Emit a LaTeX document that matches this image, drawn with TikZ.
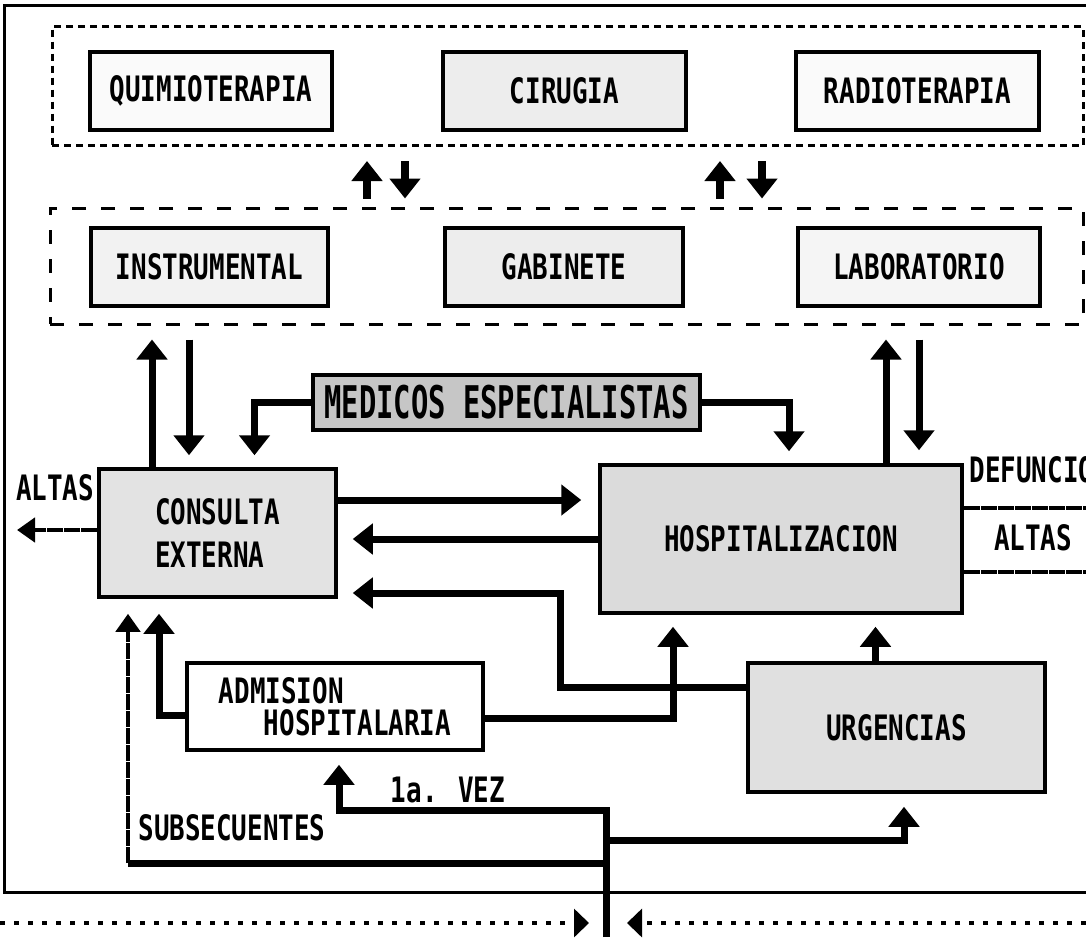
\documentclass[tikz,border=0pt]{standalone}
\usepackage{fontspec}
\setmainfont{DejaVu Sans Mono}[FakeStretch=0.74]
\newfontfamily\medfont[FakeStretch=0.64]{DejaVu Sans Mono}
\usetikzlibrary{arrows.meta}

\begin{document}
\begin{tikzpicture}[x=1pt,y=-1pt,
  font=\bfseries\fontsize{35}{40}\selectfont,
  caja/.style={draw,line width=3.5pt,inner sep=0pt},
  grupo/.style={draw,line width=3pt,inner sep=0pt},
  flecha/.style={line width=7pt,-{Triangle[width=30pt,length=20pt]}},
  rayada/.style={line width=4.5pt,dash pattern=on 16pt off 1pt},
  fina/.style={rayada,-{Triangle[width=24pt,length=18pt]}},
  punteada/.style={line width=3.5pt,dash pattern=on 5pt off 9pt,-{Triangle[width=28pt,length=15pt]}}]
  \path[use as bounding box,clip] (0,0) rectangle (1086,937);

  \draw[line width=3pt] (1086,5) -| (4,892) -- (1086,892);

  \node[grupo,dash pattern=on 7pt off 5pt,minimum width=1031,minimum height=119] (T) at (567.5,86) {};
  \node[grupo,dash pattern=on 14pt off 15pt,minimum width=1033,minimum height=116] (B) at (566.5,266) {};

  \node[caja,fill=gray!4,minimum width=242,minimum height=78] (Q) at (211,91) {QUIMIOTERAPIA};
  \node[caja,fill=gray!14,minimum width=243,minimum height=78] (C) at (564.5,91) {CIRUGIA};
  \node[caja,fill=gray!4,minimum width=243,minimum height=78] (R) at (917.5,91) {RADIOTERAPIA};

  \node[caja,fill=gray!10,minimum width=237,minimum height=78] (I) at (209.5,267) {INSTRUMENTAL};
  \node[caja,fill=gray!14,minimum width=238,minimum height=78] (G) at (564,267) {GABINETE};
  \node[caja,fill=gray!8,minimum width=242,minimum height=78] (L) at (919,267) {LABORATORIO};

  \node[caja,line width=4pt,fill=gray!45,minimum width=387,minimum height=55,
    font=\medfont\bfseries\fontsize{45}{50}\selectfont] (M) at (506.5,402.5) {MEDICOS ESPECIALISTAS};

  \node[caja,fill=gray!22,minimum width=237,minimum height=128,align=left,
    font=\bfseries\fontsize{35}{43}\selectfont] (CE) at (217.5,533) {CONSULTA\\EXTERNA};
  \node[caja,fill=gray!28,minimum width=362,minimum height=148] (H) at (781,539) {HOSPITALIZACION};
  \node[caja,fill=white,minimum width=296,minimum height=87,align=left,
    font=\bfseries\fontsize{35}{32}\selectfont] (AH) at (335,706.5) {ADMISION\\\hspace*{45pt}HOSPITALARIA};
  \node[caja,fill=gray!24,minimum width=297,minimum height=129] (U) at (896.5,727.5) {URGENCIAS};

  \node (A1) at (55,488) {ALTAS};
  \node[anchor=west] (D) at (966,470) {DEFUNCIONES};
  \node (A2) at (1033,538) {ALTAS};
  \node (S) at (232,828) {SUBSECUENTES};
  \node (V) at (448,790) {1a. VEZ};

  \coordinate (a1) at (367,0);
  \coordinate (a2) at (405,0);
  \coordinate (a3) at (720,0);
  \coordinate (a4) at (762,0);
  \coordinate (b1) at (152,0);
  \coordinate (b2) at (189,0);
  \coordinate (b3) at (886,0);
  \coordinate (b4) at (919,0);
  \coordinate (e1) at (0,500);
  \coordinate (k1) at (560,593);
  \coordinate (k2) at (339,810);
  \coordinate (k3) at (606,840);
  \coordinate (k4) at (606,863);
  \coordinate (k5) at (128,863);
  \coordinate (ent) at (606,937);
  \coordinate (s1) at (17,530);
  \coordinate (s2) at (1086,508);
  \coordinate (s3) at (1086,572);
  \coordinate (s4) at (0,923);
  \coordinate (s5) at (1086,923);

  \draw[flecha,line width=8pt,shorten <=8pt,shorten >=14pt] (B.north -| a1) -- (T.south -| a1);
  \draw[flecha,line width=8pt,shorten <=14pt,shorten >=8pt] (T.south -| a2) -- (B.north -| a2);
  \draw[flecha,line width=8pt,shorten <=8pt,shorten >=14pt] (B.north -| a3) -- (T.south -| a3);
  \draw[flecha,line width=8pt,shorten <=14pt,shorten >=8pt] (T.south -| a4) -- (B.north -| a4);

  \draw[flecha,shorten >=14pt] (CE.north -| b1) -- (B.south -| b1);
  \draw[flecha,shorten <=14pt,shorten >=12pt] (B.south -| b2) -- (CE.north -| b2);
  \draw[flecha,shorten >=14pt] (H.north -| b3) -- (B.south -| b3);
  \draw[flecha,shorten <=14pt,shorten >=13pt] (B.south -| b4) -- (H.north -| b4);

  \draw[flecha,shorten >=12pt] (M.west) -| ([xshift=37pt]CE.north);
  \draw[flecha,shorten >=12pt] (M.east) -| ([xshift=8pt]H.north);

  \draw[flecha,shorten >=17pt] (CE.east |- e1) -- (H.west |- e1);
  \draw[flecha,shorten >=15pt] (H.west) -- (H.west -| CE.east);
  \draw[flecha,shorten >=15pt] ([yshift=40pt]U.west) -| (k1) -- (k1 -| CE.east);
  \draw[flecha,shorten >=12pt] ([yshift=-12pt]AH.east) -| ([xshift=-108pt]H.south);
  \draw[flecha,shorten >=12pt] ([xshift=-21pt]U.north) -- ([xshift=-21pt]U.north |- H.south);
  \draw[flecha,shorten >=15pt] ([yshift=-9pt]AH.west) -| (CE.south -| 159,0);

  \draw[flecha,shorten >=13pt] (ent) |- (k2) -- (AH.south -| k2);
  \draw[flecha,shorten >=13pt] (k3) -| ([xshift=7.5pt]U.south);
  \draw[line width=7pt] (k4) -- (k5);
  \draw[fina,shorten >=15pt] (k5) -- (k5 |- CE.south);

  \draw[fina] (CE.west |- s1) -- (s1);
  \draw[rayada] (H.east |- s2) -- (s2);
  \draw[rayada] (H.east |- s3) -- (s3);

  \draw[punteada,shorten >=17pt] (s4) -- (ent |- s4);
  \draw[punteada,shorten >=21pt] (s5) -- (ent |- s5);
\end{tikzpicture}
\end{document}
